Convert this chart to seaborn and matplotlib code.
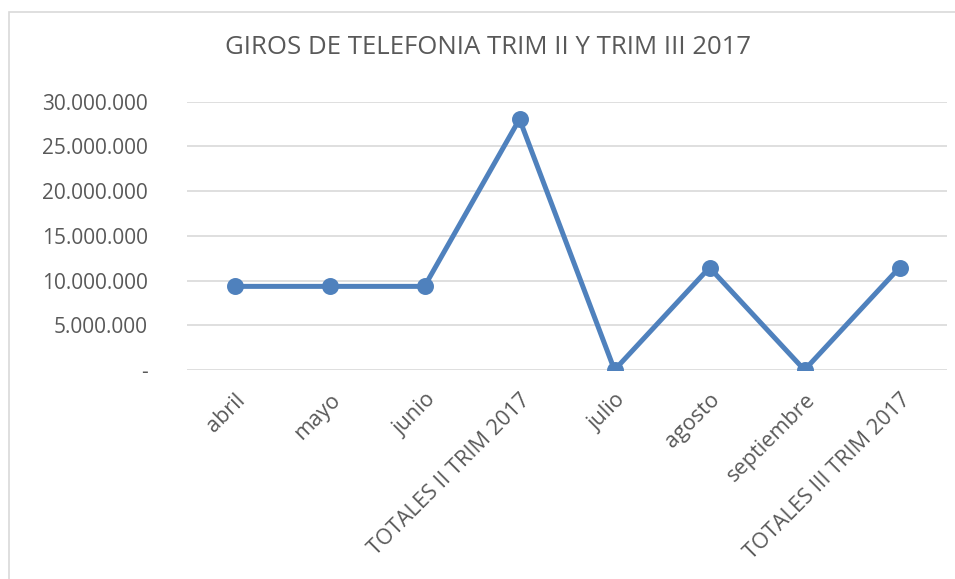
import matplotlib
matplotlib.use("Agg")
import matplotlib.pyplot as plt
from matplotlib.ticker import FuncFormatter
from matplotlib.patches import Rectangle
import seaborn as sns

# data
meses = ["abril", "mayo", "junio", "TOTALES II TRIM 2017",
         "julio", "agosto", "septiembre", "TOTALES III TRIM 2017"]
giros = [9350000, 9350000, 9350000, 28050000,
         0, 11450000, 0, 11450000]
y_ticks = [0, 5000000, 10000000, 15000000, 20000000, 25000000, 30000000]

sns.set_theme(style="white")
plt.rcParams['font.family'] = ['Open Sans', 'DejaVu Sans']

gris = "#595959"
azul = "#4F81BD"

fig = plt.figure(figsize=(9.55, 5.79), dpi=100)
ax = fig.add_axes([187 / 955, 209 / 579, 760 / 955, 268.3 / 579])

sns.pointplot(x=meses, y=giros, color=azul, markers="o", linestyles="-",
              errorbar=None, markersize=9.5, linewidth=3.6, ax=ax)

ax.set_ylim(0, 30000000)
ax.set_xlim(-0.5, len(meses) - 0.5)
ax.set_yticks(y_ticks)


def miles(v, pos):
    if v == 0:
        return "-"
    return f"{int(v):,}".replace(",", ".")


ax.yaxis.set_major_formatter(FuncFormatter(miles))
ax.grid(axis="y", color="#D9D9D9", linewidth=1.2)
ax.set_axisbelow(True)
for s in ax.spines.values():
    s.set_visible(False)
ax.tick_params(axis="both", length=0, colors=gris, labelsize=15)
ax.tick_params(axis="y", pad=28)
ax.tick_params(axis="x", pad=14, labelsize=15.6)
for lab in ax.get_xticklabels():
    lab.set_rotation(45)
    lab.set_ha("right")
    lab.set_va("top")
    lab.set_rotation_mode("anchor")
ax.set_xlabel("")
ax.set_ylabel("")

fig.text(487.5 / 955, 1 - 48 / 579, "GIROS DE TELEFONIA TRIM II Y TRIM III 2017",
         ha="center", va="center", fontsize=18.5, color=gris)

# chart-area border (cut off at right and bottom like the screenshot)
fig.patches.append(Rectangle((8.5 / 955, -0.1), 1.2, 1 - 11.5 / 579 + 0.1,
                             transform=fig.transFigure, fill=False,
                             edgecolor="#D9D9D9", linewidth=1.2))

fig.savefig("out.png", dpi=100)
